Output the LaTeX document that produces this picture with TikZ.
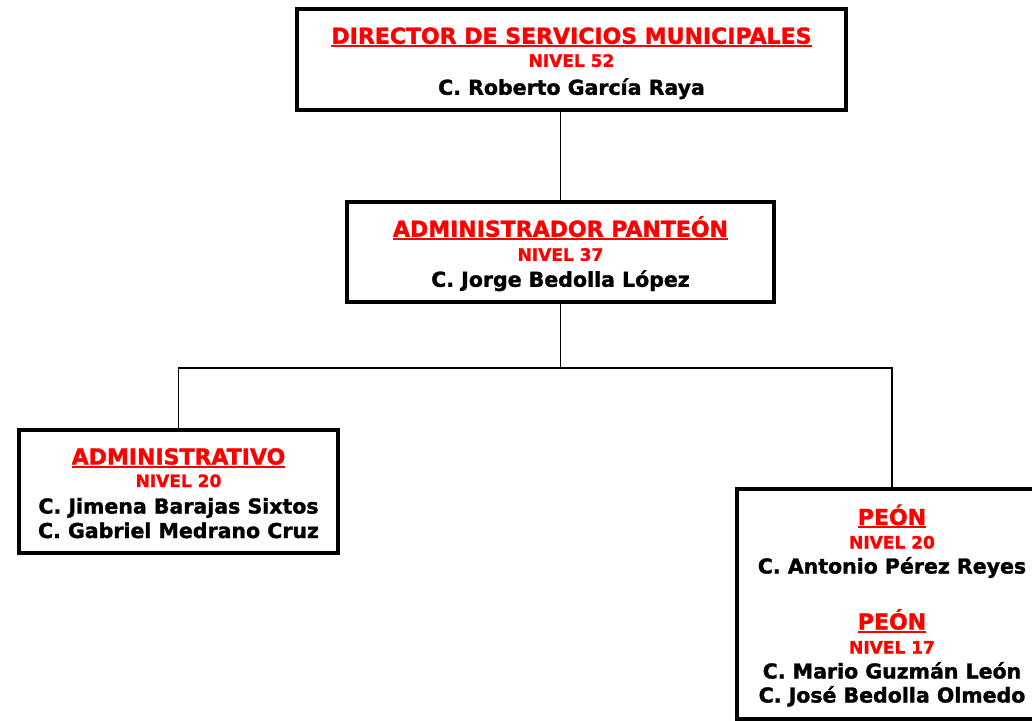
\documentclass[tikz,border=0pt]{standalone}
\usepackage{fontspec}
\setmainfont{DejaVu Sans}[BoldFeatures={FakeBold=1.5}]
\newcommand{\cargo}[1]{{\color{red}\fontsize{22}{25}\selectfont\setbox0\hbox{#1}\rule{0pt}{25.5pt}\rlap{\rule[-3pt]{\wd0}{2pt}}\box0}}
\newcommand{\nivel}[1]{{\color{red}\fontsize{17}{25}\selectfont #1}}
\newcommand{\persona}[1]{{\fontsize{20.5}{25}\selectfont\rule[-6pt]{0pt}{6pt}#1}}
\begin{document}
\begin{tikzpicture}[x=1pt, y=-1pt,
    puesto/.style={draw, line width=3.5pt, inner sep=0pt, outer sep=0pt, align=center,
        font={\bfseries\fontsize{21}{25}\selectfont\lineskiplimit=-100pt}},
    linea/.style={line width=1.2pt}]
    \useasboundingbox (0,0) rectangle (1032,720);

    % Director
    \node[puesto, minimum width=549pt, minimum height=101pt] (director) at (571.5,59.5)
        {\cargo{DIRECTOR DE SERVICIOS MUNICIPALES}\\[-2pt]\nivel{NIVEL 52}\\[3pt]\persona{C. Roberto García Raya}};

    % Administrador
    \node[puesto, minimum width=427pt, minimum height=100pt] (admin) at (560.5,252)
        {\cargo{ADMINISTRADOR PANTEÓN}\\[-1pt]\nivel{NIVEL 37}\\[1pt]\persona{C. Jorge Bedolla López}};

    % Administrativo
    \node[puesto, minimum width=319pt, minimum height=123pt] (administrativo) at (178.5,491.5)
        {\cargo{ADMINISTRATIVO}\\[-2.5pt]\nivel{NIVEL 20}\\[1.5pt]\persona{C. Jimena Barajas Sixtos}\\[-0.5pt]\persona{C. Gabriel Medrano Cruz}};

    % Peones
    \node[puesto, minimum width=310pt, minimum height=230pt] (peon) at (892,604)
        {\cargo{PEÓN}\\[-1.5pt]\nivel{NIVEL 20}\\\persona{C. Antonio Pérez Reyes}\\[31pt]
         \cargo{PEÓN}\\[-1pt]\nivel{NIVEL 17}\\\persona{C. Mario Guzmán León}\\[-1pt]\persona{C. José Bedolla Olmedo}};

    % Lines
    \draw[linea] (director.south -| admin.north) -- (admin.north);
    \draw[linea] (admin.south) -- ++(0,66) coordinate (reparto);
    \draw[linea] (administrativo.north) |- (reparto) -| (peon.north);
\end{tikzpicture}
\end{document}
